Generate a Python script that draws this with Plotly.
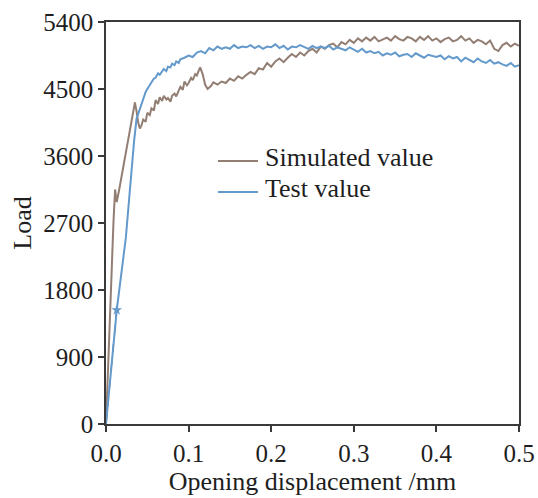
import plotly.graph_objects as go

sim_x = [0.0, 0.003, 0.006, 0.009, 0.011, 0.013, 0.016, 0.02, 0.025, 0.03, 0.033, 0.035, 0.037, 0.039, 0.041, 0.043, 0.045,
         0.048, 0.05, 0.053, 0.055, 0.058, 0.06, 0.063, 0.065, 0.068, 0.07, 0.073, 0.075, 0.078, 0.08, 0.083, 0.085, 0.088,
         0.09, 0.093, 0.095, 0.098, 0.1, 0.103, 0.105, 0.108, 0.11, 0.112, 0.114, 0.117, 0.12, 0.123, 0.127,
         0.13, 0.135, 0.14, 0.145, 0.15, 0.155, 0.16, 0.165, 0.17, 0.175, 0.18, 0.185, 0.19, 0.195, 0.2, 0.205, 0.21, 0.215,
         0.22, 0.225, 0.23, 0.235, 0.24, 0.245, 0.25, 0.255, 0.26, 0.265, 0.27, 0.275, 0.28, 0.285, 0.29, 0.295, 0.3, 0.305,
         0.31, 0.315, 0.32, 0.325, 0.33, 0.335, 0.34, 0.345, 0.35, 0.355, 0.36, 0.365, 0.37, 0.375, 0.38, 0.385, 0.39, 0.395,
         0.4, 0.405, 0.41, 0.415, 0.42, 0.425, 0.43, 0.435, 0.44, 0.445, 0.45, 0.455, 0.46, 0.465, 0.47, 0.475, 0.48, 0.485,
         0.49, 0.495, 0.5]
sim_y = [0, 1000, 1900, 2700, 3150, 2980, 3150, 3400, 3700, 4050, 4250, 4320, 4200, 4050, 3970, 4010, 4090,
         4060, 4180, 4150, 4240, 4210, 4350, 4300, 4390, 4340, 4410, 4360, 4380, 4330, 4410, 4440, 4400, 4480,
         4530, 4490, 4600, 4550, 4580, 4650, 4620, 4700, 4680, 4740, 4790, 4700, 4560, 4500, 4540,
         4590, 4560, 4600, 4580, 4640, 4610, 4670, 4640, 4690, 4730, 4700, 4780, 4760, 4850, 4800, 4870, 4910, 4860,
         4920, 4970, 4930, 4990, 4950, 5010, 5040, 4990, 5070, 5040, 5090, 5110, 5060, 5130, 5100, 5160, 5120, 5180,
         5140, 5190, 5150, 5200, 5140, 5170, 5190, 5150, 5210, 5170, 5150, 5200, 5180, 5140, 5200, 5160, 5210, 5150,
         5180, 5130, 5170, 5190, 5140, 5160, 5210, 5150, 5180, 5120, 5160, 5140, 5100, 5150, 5040, 5010, 5090, 5120,
         5070, 5110, 5080]

test_x = [0.0, 0.013, 0.024, 0.03, 0.034, 0.037, 0.04, 0.043, 0.045, 0.048, 0.05, 0.053, 0.055, 0.058, 0.06, 0.063,
          0.065, 0.068, 0.07, 0.073, 0.075, 0.078, 0.08, 0.083, 0.085, 0.088, 0.09,
          0.095, 0.1, 0.105, 0.11, 0.115, 0.12, 0.125, 0.13, 0.135, 0.14, 0.145, 0.15, 0.155, 0.16, 0.165, 0.17, 0.175,
          0.18, 0.185, 0.19, 0.195, 0.2, 0.205, 0.21, 0.215, 0.22, 0.225, 0.23, 0.235, 0.24, 0.245, 0.25, 0.255, 0.26,
          0.265, 0.27, 0.275, 0.28, 0.285, 0.29, 0.295, 0.3, 0.305, 0.31, 0.315, 0.32, 0.325, 0.33, 0.335, 0.34, 0.345,
          0.35, 0.355, 0.36, 0.365, 0.37, 0.375, 0.38, 0.385, 0.39, 0.395, 0.4, 0.405, 0.41, 0.415, 0.42, 0.425, 0.43,
          0.435, 0.44, 0.445, 0.45, 0.455, 0.46, 0.465, 0.47, 0.475, 0.48, 0.485, 0.49, 0.495, 0.5]
test_y = [0, 1530, 2500, 3300, 3800, 4100, 4200, 4320, 4370, 4460, 4500, 4560, 4590, 4640, 4650, 4710,
          4690, 4750, 4770, 4740, 4800, 4790, 4840, 4820, 4870, 4850, 4900,
          4920, 4950, 4930, 4990, 5010, 4980, 5050, 5020, 5070, 5040, 5060, 5040, 5090, 5050, 5070, 5060, 5090,
          5050, 5080, 5040, 5070, 5060, 5100, 5050, 5080, 5030, 5070, 5060, 5090, 5060, 5040, 5080, 5050, 5070,
          5050, 5080, 5030, 5060, 5040, 5020, 5060, 5030, 5000, 5040, 4990, 5010, 4980, 5000, 4950, 4980, 4960,
          4990, 4940, 4960, 4970, 4930, 4980, 4950, 4920, 4960, 4940, 4930, 4950, 4900, 4940, 4910, 4930, 4870,
          4920, 4890, 4860, 4910, 4870, 4850, 4890, 4840, 4860, 4830, 4810, 4850, 4800, 4820]

star_x = [0.013]
star_y = [1530]

x_ticks = [0.0, 0.1, 0.2, 0.3, 0.4, 0.5]
y_ticks = [0, 900, 1800, 2700, 3600, 4500, 5400]

series_names = ["Simulated value", "Test value"]

SIM_COLOR = "#927e73"
TEST_COLOR = "#6399cb"
FONT = "Liberation Serif"
TXT = "#1e1e1e"

fig = go.Figure()
fig.add_trace(go.Scatter(x=[0, star_x[0]], y=[0, star_y[0]], mode="lines",
                         line=dict(color="#333333", width=1.2, dash="dash"), showlegend=False, hoverinfo="skip"))
fig.add_trace(go.Scatter(x=sim_x, y=sim_y, mode="lines", name=series_names[0],
                         line=dict(color=SIM_COLOR, width=2)))
fig.add_trace(go.Scatter(x=test_x, y=test_y, mode="lines", name=series_names[1],
                         line=dict(color=TEST_COLOR, width=2)))
fig.add_trace(go.Scatter(x=star_x, y=star_y, mode="markers", showlegend=False,
                         marker=dict(symbol="star", size=8, color=TEST_COLOR)))

axis_common = dict(showgrid=False, zeroline=False, showline=True, linecolor="#3a3a3a", linewidth=1.5,
                   mirror=True, ticks="outside", ticklen=6, tickwidth=1.5, tickcolor="#3a3a3a",
                   automargin=False,
                   tickfont=dict(family=FONT, size=25, color=TXT))

fig.update_xaxes(range=[0, 0.5], tickvals=x_ticks, ticktext=[f"{v:.1f}" for v in x_ticks],
                 title=dict(text="Opening displacement /mm", font=dict(family=FONT, size=26, color=TXT), standoff=2),
                 **axis_common)
fig.update_yaxes(range=[0, 5400], tickvals=y_ticks, ticktext=[str(v) for v in y_ticks],
                 title=dict(text="Load", font=dict(family=FONT, size=26, color=TXT), standoff=4),
                 **axis_common)

# manual legend (line samples + labels) placed inside the plot area
legend_rows = [(series_names[0], SIM_COLOR, 0.654), (series_names[1], TEST_COLOR, 0.577)]
for name, color, yy in legend_rows:
    fig.add_shape(type="line", xref="paper", yref="paper", x0=0.271, x1=0.368, y0=yy, y1=yy,
                  line=dict(color=color, width=2))
    fig.add_annotation(xref="paper", yref="paper", x=0.380, y=yy + 0.008, xanchor="left", yanchor="middle",
                       text=name, showarrow=False, font=dict(family=FONT, size=26, color=TXT))

fig.update_layout(
    width=538, height=498,
    margin=dict(l=106, r=19, t=22, b=74),
    plot_bgcolor="white", paper_bgcolor="white",
    showlegend=False,
)

fig.write_html("out.html")
